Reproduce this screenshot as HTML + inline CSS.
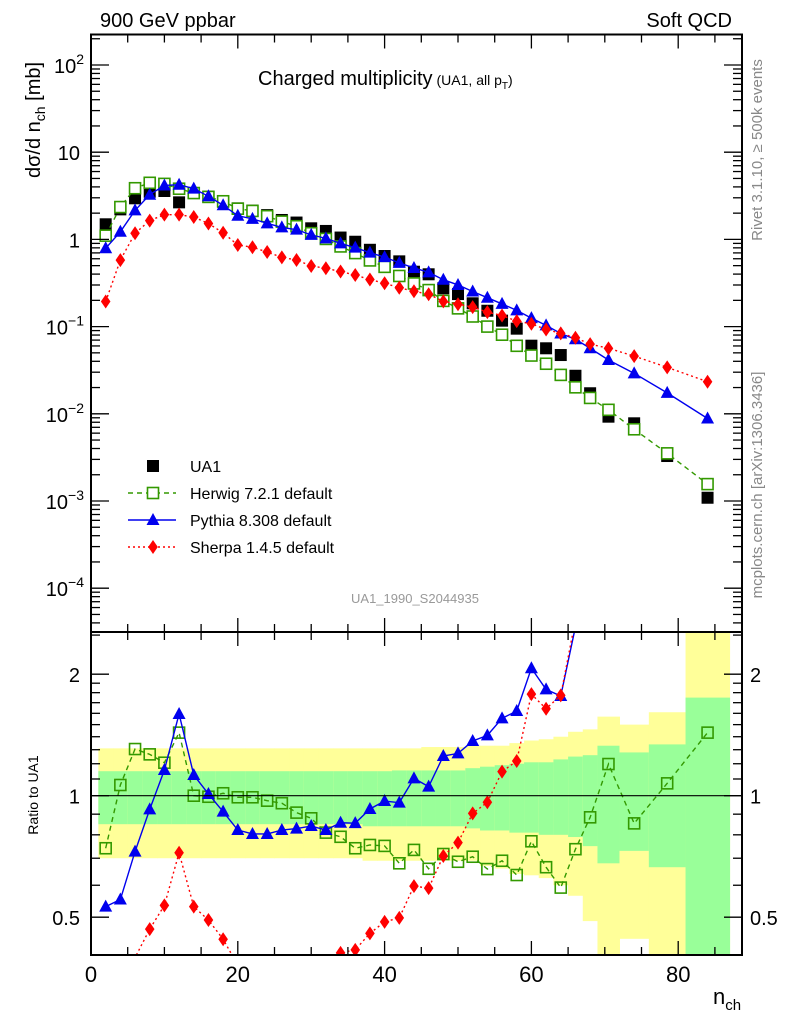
<!DOCTYPE html>
<html><head><meta charset="utf-8">
<style>
html,body{margin:0;padding:0;background:#fff;width:786px;height:1024px;overflow:hidden;}
svg{display:block;font-family:"Liberation Sans",sans-serif;}
</style></head>
<body>
<svg id="chart" width="786" height="1024" viewBox="0 0 786 1024" xmlns="http://www.w3.org/2000/svg" overflow="hidden">
<g id="bands"></g>
<g id="marks"></g>
<g id="axes"></g>
<text x="100" y="27" font-size="20">900 GeV ppbar</text>
<text x="732" y="27" font-size="20" text-anchor="end">Soft QCD</text>
<text x="258" y="85" font-size="20">Charged multiplicity<tspan font-size="14" dx="4">(UA1, all p</tspan><tspan font-size="10" dy="4">T</tspan><tspan font-size="14" dy="-4">)</tspan></text>
<text x="415" y="603" font-size="13" fill="#999" text-anchor="middle">UA1_1990_S2044935</text>
<text transform="translate(762,150) rotate(-90)" font-size="15" fill="#888" text-anchor="middle">Rivet 3.1.10, ≥ 500k events</text>
<text transform="translate(762,485) rotate(-90)" font-size="15" fill="#888" text-anchor="middle">mcplots.cern.ch [arXiv:1306.3436]</text>
<text transform="translate(40,120) rotate(-90)" font-size="20" text-anchor="middle">dσ/d n<tspan font-size="14" dy="5">ch</tspan><tspan dy="-5"> [mb]</tspan></text>
<text transform="translate(38,795) rotate(-90)" font-size="14" text-anchor="middle">Ratio to UA1</text>
<text x="713" y="1004" font-size="22">n<tspan font-size="15" dy="6">ch</tspan></text>
<g id="legend"></g>
</svg>
<script>
// ---- data ----
const xs = [2,4,6,8,10,12,14,16,18,20,22,24,26,28,30,32,34,36,38,40,42,44,46,48,50,52,54,56,58,60,62,64,66,68,70.5,74,78.5,84];
const binEdges = [1,3,5,7,9,11,13,15,17,19,21,23,25,27,29,31,33,35,37,39,41,43,45,47,49,51,53,55,57,59,61,63,65,67,69,72,76,81,87];
const ua1 = [1.49,2.21,2.96,3.52,3.59,2.66,3.4,3.09,2.7,2.27,2.14,1.9,1.67,1.56,1.34,1.25,1.05,0.94,0.76,0.645,0.56,0.426,0.398,0.275,0.236,0.185,0.152,0.117,0.0947,0.0604,0.0564,0.0472,0.0273,0.0172,0.00927,0.00778,0.00328,0.00109];
const herwigRatio = [0.741,1.063,1.305,1.266,1.207,1.433,1.0,0.994,1.014,0.991,0.991,0.972,0.958,0.908,0.879,0.81,0.791,0.741,0.755,0.751,0.68,0.734,0.659,0.717,0.686,0.706,0.658,0.69,0.636,0.771,0.665,0.592,0.737,0.884,1.198,0.854,1.073,1.433];
const pythiaRatio = [0.531,0.553,0.727,0.925,1.158,1.594,1.125,1.01,0.913,0.822,0.804,0.804,0.822,0.829,0.841,0.822,0.857,0.855,0.927,0.97,0.961,1.104,1.053,1.254,1.273,1.366,1.411,1.555,1.621,2.069,1.834,1.766,2.62,3.28,4.47,3.74,5.3,8.1];
const sherpaRatio = [0.13,0.262,0.397,0.467,0.535,0.722,0.531,0.492,0.441,0.38,0.38,0.377,0.373,0.372,0.37,0.373,0.408,0.415,0.456,0.487,0.498,0.597,0.59,0.709,0.765,0.904,0.963,1.147,1.219,1.785,1.642,1.773,2.73,3.66,6.08,5.9,10.4,21.4];
const yellowHi = [1.31,1.31,1.31,1.31,1.31,1.31,1.31,1.31,1.31,1.31,1.31,1.31,1.31,1.31,1.31,1.31,1.31,1.31,1.31,1.31,1.31,1.31,1.32,1.32,1.32,1.33,1.33,1.33,1.35,1.37,1.38,1.40,1.44,1.46,1.57,1.5,1.61,3];
const yellowLo = [0.70,0.70,0.70,0.70,0.70,0.70,0.70,0.70,0.70,0.70,0.70,0.70,0.70,0.70,0.70,0.70,0.70,0.70,0.69,0.69,0.69,0.69,0.69,0.69,0.69,0.69,0.67,0.66,0.64,0.635,0.625,0.6,0.565,0.489,0.3,0.442,0.3,0.3];
const greenHi = [1.15,1.15,1.15,1.15,1.15,1.15,1.15,1.15,1.15,1.15,1.15,1.15,1.15,1.15,1.15,1.15,1.15,1.15,1.15,1.15,1.155,1.155,1.155,1.155,1.155,1.17,1.18,1.19,1.2,1.21,1.21,1.23,1.25,1.26,1.33,1.28,1.34,1.75];
const greenLo = [0.85,0.85,0.85,0.85,0.85,0.85,0.85,0.85,0.85,0.85,0.85,0.85,0.85,0.85,0.85,0.85,0.85,0.85,0.84,0.84,0.84,0.84,0.84,0.84,0.84,0.83,0.82,0.82,0.81,0.81,0.8,0.8,0.79,0.75,0.68,0.73,0.665,0.3];
const xTicks = [0,20,40,60,80];
const yExps = [-4,-3,-2,-1,0,1,2];
const ratioTicks = [0.5,1,2];

// ---- geometry ----
const L=91,R=742,T=34.5,MB=632,RB=955;
const XMAX=(R-L)/7.34;
const Y1=239.4, DEC=87.2;
const RY1=795.7, OCT=121.5;
const sx=u=>L+u*7.34;
const sy=v=>Y1-Math.log10(v)*DEC;
const ry=r=>RY1-Math.log2(r)*OCT;
const NS='http://www.w3.org/2000/svg';
function mk(tag,attrs,parent){const e=document.createElementNS(NS,tag);for(const k in attrs)e.setAttribute(k,attrs[k]);parent.appendChild(e);return e;}
const svg=document.getElementById('chart');
const bands=document.getElementById('bands');
const marks=document.getElementById('marks');
const axes=document.getElementById('axes');

function clipY(pts,y0,y1){
  const out=[];let cur=[];
  for(let i=0;i<pts.length-1;i++){
    let [ax,ay]=pts[i],[bx,by]=pts[i+1];
    let t0=0,t1=1;const dy=by-ay;
    if(dy===0){ if(ay<y0||ay>y1){ if(cur.length){out.push(cur);cur=[];} continue; } }
    else{
      let ta=(y0-ay)/dy,tb=(y1-ay)/dy; if(ta>tb){const t=ta;ta=tb;tb=t;}
      t0=Math.max(0,ta);t1=Math.min(1,tb);
      if(t0>t1){ if(cur.length){out.push(cur);cur=[];} continue; }
    }
    const p0=[ax+(bx-ax)*t0,ay+dy*t0],p1=[ax+(bx-ax)*t1,ay+dy*t1];
    if(!cur.length||t0>0){ if(cur.length){out.push(cur);} cur=[p0]; }
    cur.push(p1);
    if(t1<1){out.push(cur);cur=[];}
  }
  if(cur.length)out.push(cur);
  return out.filter(c=>c.length>1);
}

for(let i=0;i<xs.length;i++){
  const x0=sx(binEdges[i]),x1=sx(binEdges[i+1]);
  const yt=Math.max(MB,ry(yellowHi[i])),yb=Math.min(RB,ry(yellowLo[i]));
  const y=mk('rect',{x:x0,y:yt,width:x1-x0+0.5,height:yb-yt,fill:'#ffff99'},bands);
  
  
  const gt=Math.max(MB,ry(greenHi[i])),gb=Math.min(RB,ry(greenLo[i]));
  const g=mk('rect',{x:x0,y:gt,width:x1-x0+0.5,height:gb-gt,fill:'#99ff99'},bands);
  
  
}
const ul=mk('line',{x1:L,x2:R,y1:ry(1),y2:ry(1),stroke:'#000','stroke-width':1.2},axes);



function marker(kind,x,y,parent){
  let e;
  if(kind==='sq') e=mk('rect',{x:x-6,y:y-6,width:12,height:12,fill:'#000'},parent);
  else if(kind==='osq') e=mk('rect',{x:x-5.5,y:y-5.5,width:11,height:11,fill:'none',stroke:'#339900','stroke-width':1.6},parent);
  else if(kind==='tri') e=mk('polygon',{points:`${x},${y-7} ${x-6.5},${y+5} ${x+6.5},${y+5}`,fill:'#0000ee'},parent);
  else e=mk('polygon',{points:`${x},${y-7} ${x+4.8},${y} ${x},${y+7} ${x-4.8},${y}`,fill:'#ff0000'},parent);
  return e;
}
const series=[
 {name:'herwig',ratio:herwigRatio,kind:'osq',color:'#339900',dash:'5,4'},
 {name:'pythia',ratio:pythiaRatio,kind:'tri',color:'#0000ee',dash:''},
 {name:'sherpa',ratio:sherpaRatio,kind:'dia',color:'#ff0000',dash:'2,3'}
];
const gm=mk('g',{},marks);
const gr=mk('g',{'clip-path':'url(#cr)'},marks);
const defs=mk('defs',{},svg);
const c2=mk('clipPath',{id:'cr'},defs);mk('rect',{x:L,y:MB,width:R-L,height:RB-MB},c2);

for(let i=0;i<xs.length;i++){
  const m=marker('sq',sx(xs[i]),sy(ua1[i]),gm);
  
  
}
series.forEach(s=>{
  const vals=s.ratio.map((r,i)=>r*ua1[i]);
  const pm=mk('polyline',{points:xs.map((x,i)=>sx(x)+','+sy(vals[i])).join(' '),fill:'none',stroke:s.color,'stroke-width':1.4,'stroke-dasharray':s.dash},gm);
  
  
  const segs=clipY(xs.map((x,i)=>[sx(x),ry(s.ratio[i])]),MB,RB);
  segs.forEach(seg=>{
    const pr=mk('polyline',{points:seg.map(p=>p[0]+','+p[1]).join(' '),fill:'none',stroke:s.color,'stroke-width':1.4,'stroke-dasharray':s.dash},gr);
    
    
  });
  xs.forEach((x,i)=>{
    if(s.kind==='osq'){mk('rect',{x:sx(x)-6,y:sy(vals[i])-6,width:12,height:12,fill:'#fff'},gm);}
    const m=marker(s.kind,sx(x),sy(vals[i]),gm);
    
    
    const yy=ry(s.ratio[i]);
    if(yy>MB+3 && yy<RB+2){
      const m2=marker(s.kind,sx(x),yy,gr);
      
      
    }
  });
});

[[T,MB],[MB,RB]].forEach(([a,b],k)=>{
  const f=mk('rect',{x:L,y:a,width:R-L,height:b-a,fill:'none',stroke:'#000','stroke-width':2},axes);
  
  
});
for(let u=0;u<=XMAX;u+=5){
  const major=u%20===0, len=major?14:8, x=sx(u);
  [[T,1],[MB,-1],[MB,1],[RB,-1]].forEach(([y,d])=>mk('line',{x1:x,x2:x,y1:y,y2:y+d*len,stroke:'#000','stroke-width':1.3},axes));
}
xTicks.forEach(t=>{
  const e=mk('text',{x:sx(t),y:982,'font-size':22,'text-anchor':'middle'},axes);
  e.textContent=t;
  
  
});
for(let e=-5;e<=2;e++){
  for(let m=1;m<10;m++){
    const v=m*Math.pow(10,e), y=sy(v);
    if(y<T||y>MB) continue;
    const len=m===1?18:9;
    mk('line',{x1:L,x2:L+len,y1:y,y2:y,stroke:'#000','stroke-width':1.3},axes);
    mk('line',{x1:R,x2:R-len,y1:y,y2:y,stroke:'#000','stroke-width':1.3},axes);
  }
}
yExps.forEach(e=>{
  const y=sy(Math.pow(10,e))+8;
  const t=mk('text',{x:80,y:y,'font-size':20,'text-anchor':'end'},axes);
  
  
  if(e===0) t.textContent='1';
  else if(e===1) t.textContent='10';
  else { t.textContent='10'; const s=mk('tspan',{dy:-9,'font-size':14},t); s.textContent=(e<0?'\u2212':'')+Math.abs(e); t.setAttribute('x',84); }
});
[0.4,0.5,0.6,0.7,0.8,0.9,1,1.1,1.2,1.3,1.4,1.5,1.6,1.7,1.8,1.9,2,2.5].forEach(r=>{
  const y=ry(r); if(y<MB||y>RB) return;
  const len=(r===0.5||r===1||r===2)?18:9;
  mk('line',{x1:L,x2:L+len,y1:y,y2:y,stroke:'#000','stroke-width':1.3},axes);
  mk('line',{x1:R,x2:R-len,y1:y,y2:y,stroke:'#000','stroke-width':1.3},axes);
});
ratioTicks.forEach(r=>{
  const a=mk('text',{x:80,y:ry(r)+8,'font-size':20,'text-anchor':'end'},axes);a.textContent=r;
  
  
  const b=mk('text',{x:750,y:ry(r)+8,'font-size':20},axes);b.textContent=r;
  
  
});
const leg=document.getElementById('legend');
const entries=[['UA1','sq','#000',null],['Herwig 7.2.1 default','osq','#339900','5,4'],['Pythia 8.308 default','tri','#0000ee',''],['Sherpa 1.4.5 default','dia','#ff0000','2,3']];
entries.forEach((en,i)=>{
  const y=466+i*27;
  const g=mk('g',{},leg);
  
  
  if(en[3]!==null) mk('line',{x1:128,x2:176,y1:y,y2:y,stroke:en[2],'stroke-width':1.4,'stroke-dasharray':en[3]},g);
  if(en[1]==='osq') mk('rect',{x:147,y:y-6,width:12,height:12,fill:'#fff'},g);
  marker(en[1],153,y,g);
  const t=mk('text',{x:190,y:y+6,'font-size':16},g); t.textContent=en[0];
});
</script>
</body></html>
